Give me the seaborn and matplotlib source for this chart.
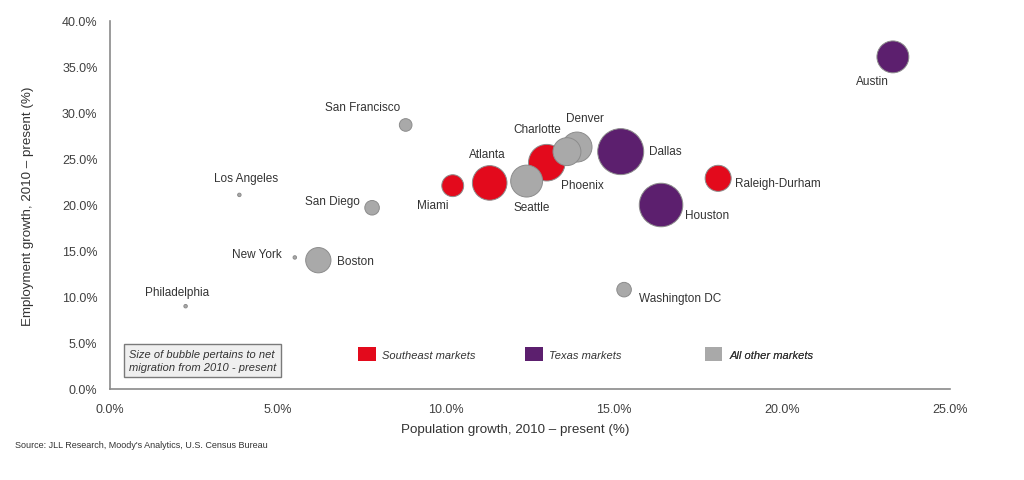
import matplotlib
matplotlib.use("Agg")
import matplotlib.pyplot as plt
from matplotlib.patches import Patch
from matplotlib.ticker import FuncFormatter, MultipleLocator
import seaborn as sns
import pandas as pd

# ---------------- data ----------------
cities = ["Miami", "Atlanta", "Charlotte", "Raleigh-Durham",
          "Dallas", "Houston", "Austin",
          "San Francisco", "San Diego", "Los Angeles", "New York", "Boston",
          "Philadelphia", "Seattle", "Denver", "Phoenix", "Washington DC"]
region = ["Southeast markets"] * 4 + ["Texas markets"] * 3 + ["All other markets"] * 10
pop_growth = [10.2, 11.3, 13.0, 18.1,
              15.2, 16.4, 23.3,
              8.8, 7.8, 3.85, 5.5, 6.2,
              2.25, 12.4, 13.9, 13.6, 15.3]
emp_growth = [22.1, 22.4, 24.6, 22.9,
              25.8, 20.0, 36.1,
              28.7, 19.7, 21.1, 14.3, 14.0,
              9.0, 22.6, 26.3, 25.8, 10.8]
net_migration = [120, 300, 335, 170,
                 530, 475, 255,
                 40, 53, 3, 3, 160,
                 3, 255, 225, 195, 53]

region_order = ["Southeast markets", "Texas markets", "All other markets"]
region_colors = ["#E30A1C", "#5C1F6E", "#A9A9A9"]

# label offsets in pixels (dx, dy) relative to bubble centre
label_offsets = {
    "Austin": (-20, -24), "Dallas": (45, 1), "Houston": (46, -10),
    "Raleigh-Durham": (60, -5), "Phoenix": (15, -33), "Seattle": (5, -26),
    "Charlotte": (-10, 34), "Denver": (8, 29), "Atlanta": (-2, 29),
    "Miami": (-20, -19), "San Francisco": (-43, 18), "San Diego": (-40, 7),
    "Los Angeles": (7, 17), "New York": (-38, 3), "Boston": (37, -1),
    "Philadelphia": (-9, 14), "Washington DC": (56, -8),
}

df = pd.DataFrame({"city": cities, "region": region, "pop": pop_growth,
                   "emp": emp_growth, "mig": net_migration})

# ---------------- style ----------------
sns.set_theme(style="white")
plt.rcParams["font.family"] = ["Liberation Sans", "DejaVu Sans"]
text_col = "#333333"

fig = plt.figure(figsize=(10.24, 4.81), dpi=100)
ax = fig.add_axes([110 / 1024, 91 / 481, 840 / 1024, 368 / 481])

palette = dict(zip(region_order, region_colors))
sns.scatterplot(data=df, x="pop", y="emp", hue="region", size="mig",
                hue_order=region_order, palette=palette,
                sizes=(0, 2070), size_norm=(0, 1000),
                edgecolor="#8c8c8c", linewidth=0.7, alpha=1,
                legend=False, ax=ax, zorder=3)

for c, x, y in zip(cities, pop_growth, emp_growth):
    dx, dy = label_offsets[c]
    ax.annotate(c, (x, y), xytext=(dx, dy), textcoords="offset pixels",
                ha="center", va="center", fontsize=8.5, color=text_col)

ax.set_xlim(0, 25)
ax.set_ylim(0, 40)
ax.xaxis.set_major_locator(MultipleLocator(5))
ax.yaxis.set_major_locator(MultipleLocator(5))
fmt = FuncFormatter(lambda v, p: f"{v:.1f}%")
ax.xaxis.set_major_formatter(fmt)
ax.yaxis.set_major_formatter(fmt)
ax.tick_params(axis="both", length=0, labelsize=9, labelcolor="#404040")
ax.tick_params(axis="x", pad=10)
ax.tick_params(axis="y", pad=9)

for s in ["top", "right"]:
    ax.spines[s].set_visible(False)
for s in ["left", "bottom"]:
    ax.spines[s].set_color("#8a8a8a")
    ax.spines[s].set_linewidth(1.2)

xl = ax.set_xlabel("Population growth, 2010 \u2013 present (%)", fontsize=9.6,
                   color=text_col)
yl = ax.set_ylabel("Employment growth, 2010 \u2013 present (%)", fontsize=9.6,
                   color=text_col)
xl.set_va("center")
yl.set_va("center")
ax.xaxis.set_label_coords(0.483, -0.11)
ax.yaxis.set_label_coords(-0.098, 0.5)

# bubble-size note
ax.text(0.0226, 0.0774, "Size of bubble pertains to net\nmigration from 2010 - present",
        transform=ax.transAxes, ha="left", va="center", fontsize=8,
        style="italic", color="#333333", linespacing=1.3,
        bbox=dict(boxstyle="square,pad=0.45", facecolor="#EFEFEF",
                  edgecolor="#7a7a7a", linewidth=1.0), zorder=4)

# colour legend (three separate entries)
leg_x = [0.295, 0.494, 0.708]
for name, col, lx in zip(region_order, region_colors, leg_x):
    leg = ax.legend(handles=[Patch(facecolor=col, edgecolor="none", label=name)],
                    loc="center left", bbox_to_anchor=(lx, 0.095),
                    frameon=False, borderpad=0, borderaxespad=0,
                    handlelength=1.6, handleheight=1.6, handletextpad=0.6,
                    prop=dict(size=8, style="italic"))
    for t in leg.get_texts():
        t.set_color("#333333")
    ax.add_artist(leg)

fig.text(15 / 1024, (481 - 446) / 481,
         "Source: JLL Research, Moody's Analytics, U.S. Census Bureau",
         fontsize=6.5, color="#333333", ha="left", va="center")

fig.savefig("out.png", dpi=100)
